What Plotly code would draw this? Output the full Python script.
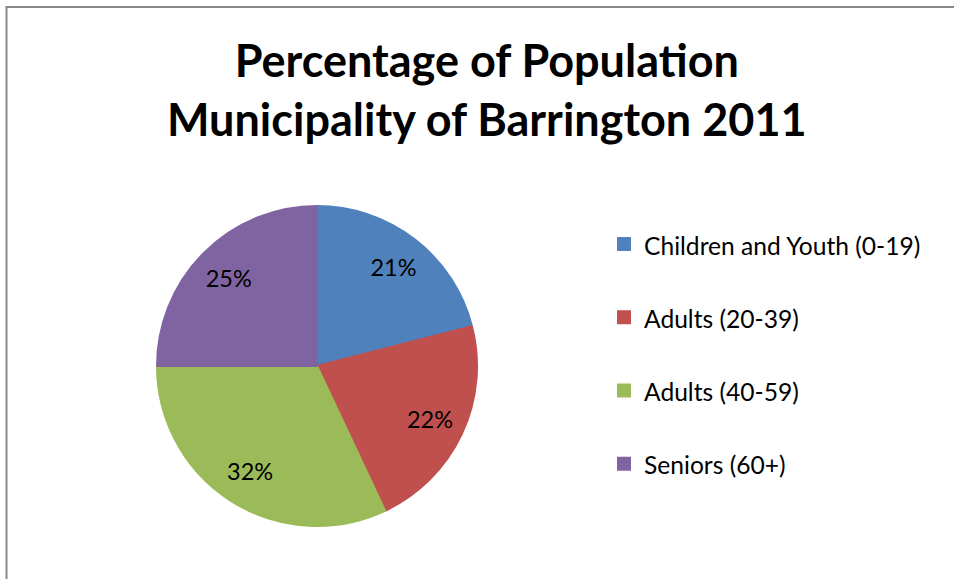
import plotly.graph_objects as go

# Data
categories = ["Children and Youth (0-19)", "Adults (20-39)", "Adults (40-59)", "Seniors (60+)"]
values = [21, 22, 32, 25]
colors = ["#4F81BD", "#C0504D", "#9BBB59", "#8064A2"]
title_lines = ["Percentage of Population", "Municipality of Barrington 2011"]

W, H = 954, 579
FONT = "Lato, 'Open Sans', sans-serif"

# pie placement (pixels)
cx, cy, r = 317, 366, 160
dom_x = [(cx - r) / W, (cx + r) / W]
dom_y = [(H - (cy + r)) / H, (H - (cy - r)) / H]

legend_labels = [f"<span style='font-size:24.6px'>{c}</span><br> " for c in categories]

fig = go.Figure()
# main pie (colours + legend)
fig.add_trace(go.Pie(
    labels=legend_labels,
    values=values,
    sort=False,
    direction="clockwise",
    rotation=0,
    marker=dict(colors=colors, line=dict(width=2, color=colors)),
    textinfo="none",
    domain=dict(x=dom_x, y=dom_y),
    hoverinfo="percent",
    showlegend=True,
))
# transparent ring overlay used only to place percentage labels
fig.add_trace(go.Pie(
    labels=categories,
    values=values,
    sort=False,
    direction="clockwise",
    rotation=0,
    hole=0.56,
    marker=dict(colors=["rgba(0,0,0,0)"] * 4, line=dict(width=0)),
    texttemplate="%{percent:.0%}",
    textposition="inside",
    insidetextorientation="horizontal",
    textfont=dict(family=FONT, size=23.5, color="#000000"),
    domain=dict(x=dom_x, y=dom_y),
    hoverinfo="skip",
    showlegend=False,
))

fig.add_annotation(
    text="<b>" + "<br>".join(title_lines) + "</b>",
    xref="paper", yref="paper",
    x=487 / W, y=(H - 89) / H,
    xanchor="center", yanchor="middle",
    showarrow=False,
    font=dict(family=FONT, size=45, color="#000000"),
)

fig.add_shape(
    type="rect", xref="paper", yref="paper",
    x0=6.5 / W, x1=1.2, y0=-0.2, y1=(H - 7) / H,
    line=dict(color="#878787", width=2),
    fillcolor="rgba(0,0,0,0)",
)

fig.update_layout(
    width=W, height=H,
    margin=dict(l=0, r=0, t=0, b=0),
    paper_bgcolor="white",
    plot_bgcolor="white",
    showlegend=True,
    legend=dict(
        x=604 / W, y=(H - 220) / H,
        xanchor="left", yanchor="top",
        font=dict(family=FONT, size=27, color="#000000"),
        valign="top",
        bgcolor="rgba(0,0,0,0)",
    ),
)

fig.write_html(
    "out.html",
    config={"displayModeBar": False},
    post_script="document.body.style.margin='0';document.body.style.overflow='hidden';",
)
